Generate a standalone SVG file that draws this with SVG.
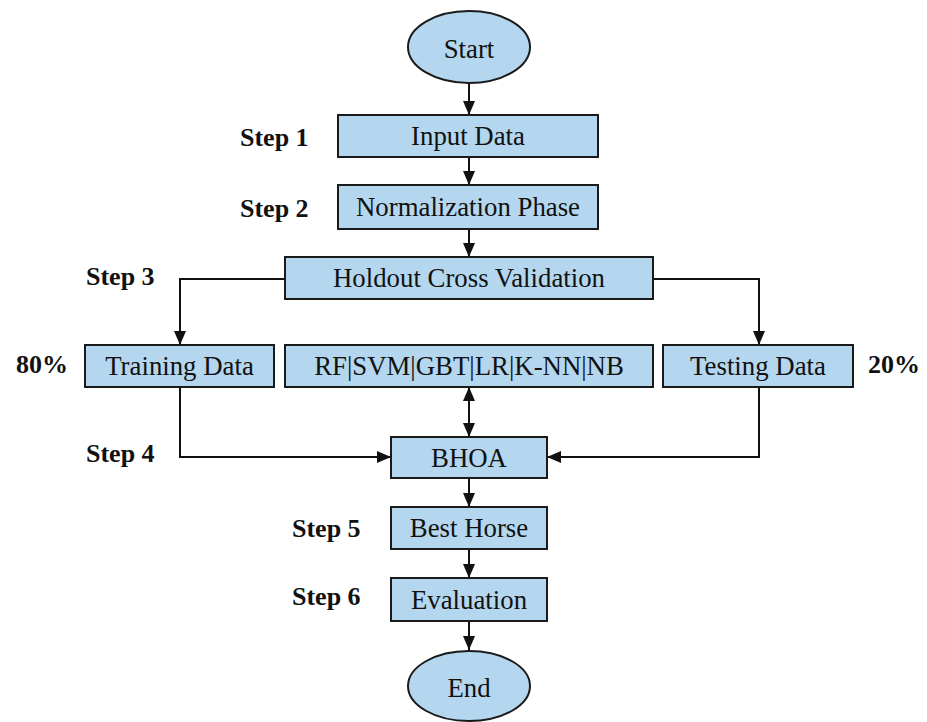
<svg xmlns="http://www.w3.org/2000/svg" width="927" height="722" viewBox="0 0 927 722">
<style>
.box{fill:#B4D7EF;stroke:#1a1a1a;stroke-width:2}
.t{font-family:"Liberation Serif","Times New Roman",serif;font-size:26.8px;fill:#111;text-anchor:middle}
.lb{font-family:"Liberation Serif","Times New Roman",serif;font-size:26px;font-weight:bold;fill:#111}
.c{fill:none;stroke:#111;stroke-width:2}
</style>
<defs>
<marker id="ah" markerUnits="userSpaceOnUse" markerWidth="16" markerHeight="16" viewBox="0 0 16 16" refX="14" refY="8" orient="auto-start-reverse">
<path d="M0,2 L14,8 L0,14 Z" fill="#111"/>
</marker>
</defs>
<rect width="927" height="722" fill="#fff"/>
<g id="connectors">
<path class="c" d="M469,83 V115" marker-end="url(#ah)"/>
<path class="c" d="M469,157 V185" marker-end="url(#ah)"/>
<path class="c" d="M469,229 V257" marker-end="url(#ah)"/>
<path class="c" d="M285,279 H180 V345" marker-end="url(#ah)"/>
<path class="c" d="M653,279 H759 V345" marker-end="url(#ah)"/>
<path class="c" d="M469,387 V437" marker-start="url(#ah)" marker-end="url(#ah)"/>
<path class="c" d="M180,387 V457 H391" marker-end="url(#ah)"/>
<path class="c" d="M759,387 V457 H547" marker-end="url(#ah)"/>
<path class="c" d="M469,478 V507" marker-end="url(#ah)"/>
<path class="c" d="M469,549 V578" marker-end="url(#ah)"/>
<path class="c" d="M469,621 V650" marker-end="url(#ah)"/>
</g>
<g id="start"><ellipse class="box" cx="469" cy="47" rx="61" ry="36"/><text class="t" x="469" y="58">Start</text></g>
<g id="input"><rect class="box" x="338" y="115" width="260" height="42"/><text class="t" x="468" y="145">Input Data</text></g>
<g id="norm"><rect class="box" x="338" y="185" width="260" height="44"/><text class="t" x="468" y="216">Normalization Phase</text></g>
<g id="holdout"><rect class="box" x="285" y="257" width="368" height="42"/><text class="t" x="469" y="287">Holdout Cross Validation</text></g>
<g id="training"><rect class="box" x="85" y="345" width="189" height="42"/><text class="t" x="179.5" y="375">Training Data</text></g>
<g id="models"><rect class="box" x="285" y="345" width="368" height="42"/><text class="t" x="469" y="375">RF|SVM|GBT|LR|K-NN|NB</text></g>
<g id="testing"><rect class="box" x="663" y="345" width="190" height="42"/><text class="t" x="758" y="375">Testing Data</text></g>
<g id="bhoa"><rect class="box" x="391" y="437" width="156" height="41"/><text class="t" x="469" y="467">BHOA</text></g>
<g id="best"><rect class="box" x="391" y="507" width="156" height="42"/><text class="t" x="469" y="537">Best Horse</text></g>
<g id="eval"><rect class="box" x="391" y="578" width="156" height="43"/><text class="t" x="469" y="609">Evaluation</text></g>
<g id="end"><ellipse class="box" cx="469" cy="686" rx="61" ry="35"/><text class="t" x="469" y="697">End</text></g>
<g id="labels">
<text class="lb" x="240" y="146">Step 1</text>
<text class="lb" x="240" y="217">Step 2</text>
<text class="lb" x="86" y="285">Step 3</text>
<text class="lb" x="16" y="373">80%</text>
<text class="lb" x="868" y="373">20%</text>
<text class="lb" x="86" y="462">Step 4</text>
<text class="lb" x="292" y="537">Step 5</text>
<text class="lb" x="292" y="605">Step 6</text>
</g>
</svg>
